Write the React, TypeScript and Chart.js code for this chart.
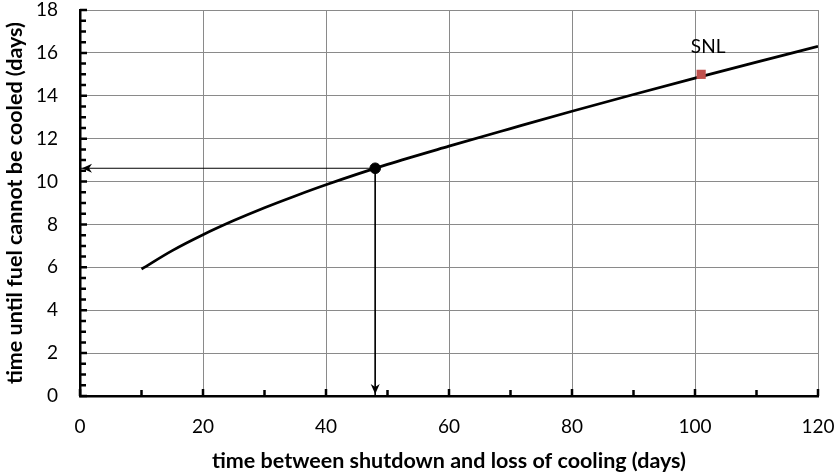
import React, { useEffect, useRef } from "react";
import { Chart, registerables } from "chart.js";

Chart.register(...registerables);

// ---- data ----
const curveX = [10, 15, 20, 25, 30, 35, 40, 50, 60, 70, 80, 90, 100, 110, 120];
const curveY = [5.92, 6.78, 7.52, 8.18, 8.78, 9.33, 9.85, 10.8, 11.65, 12.47, 13.28, 14.06, 14.82, 15.57, 16.3];
const markerX = 48;
const markerY = 10.62;
const snlX = 101;
const snlY = 15;
const snlLabel = "SNL";
const xMin = 0, xMax = 120, xStep = 20, xMinorStep = 10;
const yMin = 0, yMax = 18, yStep = 2, yMinorStep = 0.5;
const xTitle = "time between shutdown and loss of cooling (days)";
const yTitle = "time until fuel cannot be cooled (days)";

const FONT = "Lato, 'Open Sans', sans-serif";

const extrasPlugin = {
  id: "extras",
  afterDatasetsDraw(chart: any) {
    const ctx = chart.ctx;
    // arrowheads
    chart.data.datasets.forEach((ds: any, i: number) => {
      if (!ds.arrow) return;
      const pts = chart.getDatasetMeta(i).data;
      if (pts.length < 2) return;
      const a = pts[pts.length - 2];
      const b = pts[pts.length - 1];
      const ang = Math.atan2(b.y - a.y, b.x - a.x);
      const len = 10, hw = 4.5, notch = 7;
      ctx.save();
      ctx.translate(b.x, b.y);
      ctx.rotate(ang);
      ctx.translate(-2, 0);
      ctx.fillStyle = "#000";
      ctx.beginPath();
      ctx.moveTo(0, 0);
      ctx.lineTo(-len, -hw);
      ctx.lineTo(-notch, 0);
      ctx.lineTo(-len, hw);
      ctx.closePath();
      ctx.fill();
      ctx.restore();
    });
    // SNL label
    chart.data.datasets.forEach((ds: any, i: number) => {
      if (!ds.pointLabel) return;
      const p = chart.getDatasetMeta(i).data[0];
      ctx.save();
      ctx.fillStyle = "#000";
      ctx.font = `19px ${FONT}`;
      ctx.textAlign = "center";
      ctx.textBaseline = "middle";
      ctx.fillText(ds.pointLabel, p.x + 7, p.y - 27);
      ctx.restore();
    });
  },
  afterDraw(chart: any) {
    const ctx = chart.ctx;
    const xs = chart.scales.x;
    const ys = chart.scales.y;
    const { left, bottom } = chart.chartArea;
    ctx.save();
    ctx.strokeStyle = "#000";
    ctx.lineWidth = 2.5;
    ctx.beginPath();
    for (let v = xMin; v <= xMax + 1e-9; v += xMinorStep) {
      const px = xs.getPixelForValue(v);
      const major = Math.abs(v / xStep - Math.round(v / xStep)) < 1e-9;
      ctx.moveTo(px, bottom);
      ctx.lineTo(px, bottom - (major ? 7 : 6));
    }
    for (let v = yMin; v <= yMax + 1e-9; v += yMinorStep) {
      const py = ys.getPixelForValue(v);
      const major = Math.abs(v / yStep - Math.round(v / yStep)) < 1e-9;
      ctx.moveTo(left, py);
      ctx.lineTo(left + (major ? 7 : 6), py);
    }
    ctx.stroke();
    ctx.restore();
  },
};

export default function App() {
  const ref = useRef<HTMLCanvasElement>(null);
  useEffect(() => {
    if (!ref.current) return;
    Chart.defaults.font.family = FONT;
    const chart = new Chart(ref.current, {
      type: "line",
      data: {
        datasets: [
          {
            data: curveX.map((x, i) => ({ x, y: curveY[i] })),
            borderColor: "#000",
            borderWidth: 2.75,
            pointRadius: 0,
            cubicInterpolationMode: "monotone",
            order: 2,
          },
          {
            data: [{ x: markerX, y: markerY }, { x: xMin, y: markerY }],
            borderColor: "#000",
            borderWidth: 1,
            pointRadius: 0,
            arrow: true,
            clip: false,
            order: 3,
          } as any,
          {
            data: [{ x: markerX, y: markerY }, { x: markerX, y: yMin }],
            borderColor: "#000",
            borderWidth: 1,
            pointRadius: 0,
            arrow: true,
            clip: false,
            order: 3,
          } as any,
          {
            data: [{ x: markerX, y: markerY }],
            showLine: false,
            pointRadius: 5.3,
            pointBackgroundColor: "#000",
            pointBorderColor: "#000",
            order: 0,
          },
          {
            data: [{ x: snlX, y: snlY }],
            showLine: false,
            pointStyle: "rect",
            pointRadius: 6.5,
            pointBackgroundColor: "#C0504D",
            pointBorderColor: "#C0504D",
            pointBorderWidth: 0,
            pointLabel: snlLabel,
            order: 0,
          } as any,
        ],
      },
      options: {
        animation: false,
        responsive: true,
        maintainAspectRatio: false,
        layout: { padding: { top: 10, right: 18, left: 0, bottom: 0 } },
        plugins: { legend: { display: false }, tooltip: { enabled: false } },
        scales: {
          x: {
            type: "linear",
            min: xMin,
            max: xMax,
            afterFit: (s: any) => {
              s.height = 79;
              s.paddingLeft = 0;
              s.paddingRight = 0;
            },
            ticks: { stepSize: xStep, padding: 19.5, color: "#000", font: { size: 19 } },
            grid: { color: "#8a8a8a", lineWidth: 1, drawTicks: false },
            border: { color: "#000", width: 2.5 },
            title: {
              display: true,
              text: xTitle,
              color: "#000",
              font: { size: 21.5, weight: "bold" },
              padding: { top: 0, bottom: 1 },
            },
          },
          y: {
            type: "linear",
            min: yMin,
            max: yMax,
            afterFit: (s: any) => {
              s.width = 80;
              s.paddingTop = 0;
              s.paddingBottom = 0;
            },
            ticks: { stepSize: yStep, padding: 22, color: "#000", font: { size: 19 } },
            grid: { color: "#8a8a8a", lineWidth: 1, drawTicks: false },
            border: { color: "#000", width: 2.5 },
            title: {
              display: true,
              text: yTitle,
              color: "#000",
              font: { size: 21.5, weight: "bold" },
              padding: { top: 2, bottom: 0 },
            },
          },
        },
      },
      plugins: [extrasPlugin],
    } as any);
    return () => chart.destroy();
  }, []);
  return (
    <div style={{ position: "fixed", left: 0, top: 0, width: 836, height: 475, background: "#fff" }}>
      <canvas ref={ref} />
    </div>
  );
}
